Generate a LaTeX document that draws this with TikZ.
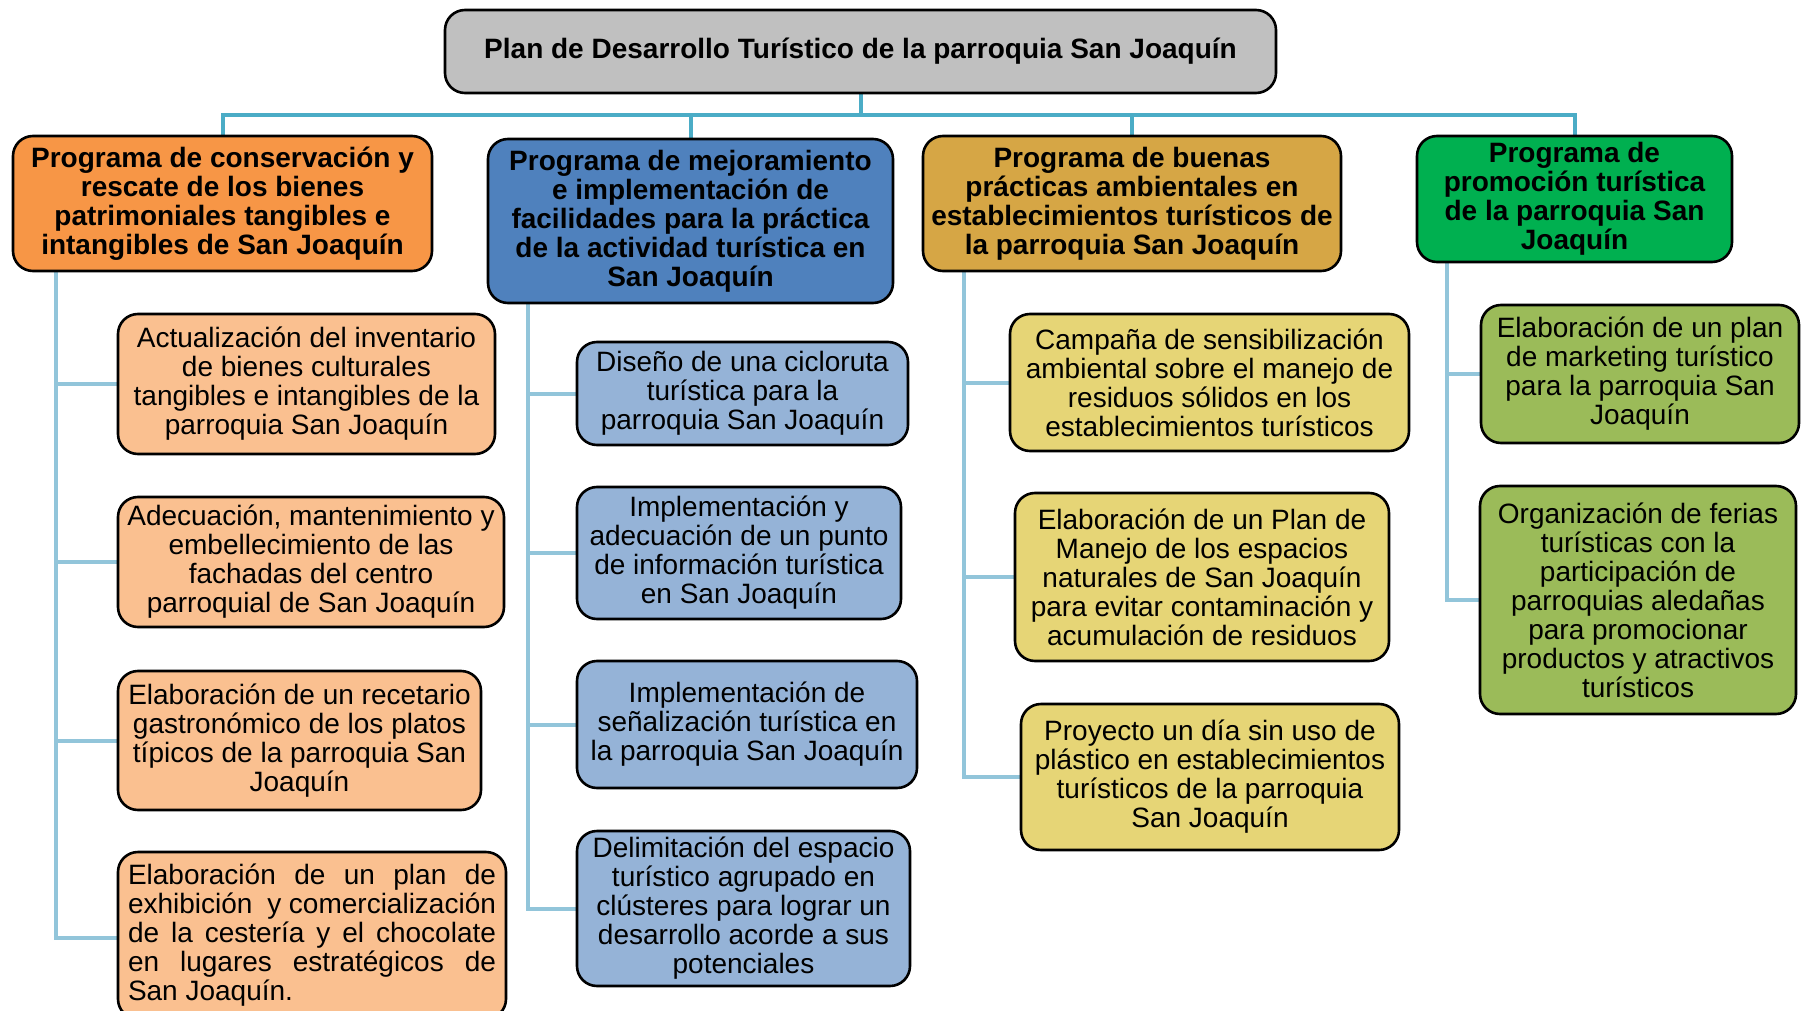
\documentclass[tikz,border=0pt]{standalone}
\usepackage{fontspec}
\setmainfont{Liberation Sans}
\usetikzlibrary{backgrounds}
\definecolor{titlegray}{HTML}{C0C0C0}
\definecolor{porange}{HTML}{F79646}
\definecolor{pblue}{HTML}{4F81BD}
\definecolor{pgold}{HTML}{D6A645}
\definecolor{pgreen}{HTML}{00B050}
\definecolor{corange}{HTML}{FAC090}
\definecolor{cblue}{HTML}{95B3D7}
\definecolor{cyellow}{HTML}{E6D576}
\definecolor{cgreen}{HTML}{9BBB59}
\definecolor{topblue}{HTML}{4BACC6}
\definecolor{subblue}{HTML}{92C5DA}
\tikzset{
  box/.style={draw=black, line width=2.6pt, rounded corners=20pt, align=center,
    inner sep=0pt, font=\fontsize{28}{29}\selectfont},
  progbox/.style={box, font=\fontsize{28}{29}\selectfont\bfseries},
  topline/.style={draw=topblue, line width=4pt},
  subline/.style={draw=subblue, line width=4pt},
}
\newcommand{\jline}[1]{\makebox[368pt][s]{#1}}
\begin{document}
\begin{tikzpicture}[x=1pt,y=-1pt]
\useasboundingbox (0,0) rectangle (1802,1011);

% title
\node[progbox, fill=titlegray, minimum width=831pt, minimum height=83pt] (title) at (860.5,51.5)
  {Plan de Desarrollo Turístico de la parroquia San Joaquín};

% programs
\node[progbox, fill=porange, minimum width=419pt, minimum height=135pt] (p1) at (222.5,203.5)
  {Programa de conservación y\\rescate de los bienes\\patrimoniales tangibles e\\intangibles de San Joaquín};
\node[progbox, fill=pblue, minimum width=405pt, minimum height=164pt] (p2) at (690.5,221)
  {Programa de mejoramiento\\e implementación de\\facilidades para la práctica\\de la actividad turística en\\San Joaquín};
\node[progbox, fill=pgold, minimum width=418pt, minimum height=135pt] (p3) at (1132,203.5)
  {Programa de buenas\\prácticas ambientales en\\establecimientos turísticos de\\la parroquia San Joaquín};
\node[progbox, fill=pgreen, minimum width=315pt, minimum height=126pt] (p4) at (1574.5,199)
  {Programa de\\promoción turística\\de la parroquia San\\Joaquín};

% children of p1
\node[box, fill=corange, minimum width=377pt, minimum height=140pt] (c1) at (306.5,384)
  {Actualización del inventario\\de bienes culturales\\tangibles e intangibles de la\\parroquia San Joaquín};
\node[box, fill=corange, minimum width=386pt, minimum height=130pt] (c2) at (311,562)
  {Adecuación, mantenimiento y\\embellecimiento de las\\fachadas del centro\\parroquial de San Joaquín};
\node[box, fill=corange, minimum width=363pt, minimum height=139pt] (c3) at (299.5,740.5)
  {Elaboración de un recetario\\gastronómico de los platos\\típicos de la parroquia San\\Joaquín};
\node[box, fill=corange, minimum width=388pt, minimum height=167pt, align=left] (c4) at (312,935.5)
  {\jline{Elaboración de un plan de}\\\jline{exhibición \ y comercialización}\\\jline{de la cestería y el chocolate}\\\jline{en lugares estratégicos de}\\San Joaquín.};

% children of p2
\node[box, fill=cblue, minimum width=331pt, minimum height=103pt] (d1) at (742.5,393.5)
  {Diseño de una cicloruta\\turística para la\\parroquia San Joaquín};
\node[box, fill=cblue, minimum width=324pt, minimum height=132pt] (d2) at (739,553)
  {Implementación y\\adecuación de un punto\\de información turística\\en San Joaquín};
\node[box, fill=cblue, minimum width=340pt, minimum height=127pt] (d3) at (747,724.5)
  {Implementación de\\señalización turística en\\la parroquia San Joaquín};
\node[box, fill=cblue, minimum width=333pt, minimum height=155pt] (d4) at (743.5,908.5)
  {Delimitación del espacio\\turístico agrupado en\\clústeres para lograr un\\desarrollo acorde a sus\\potenciales};

% children of p3
\node[box, fill=cyellow, minimum width=399pt, minimum height=137pt] (e1) at (1209.5,382.5)
  {Campaña de sensibilización\\ambiental sobre el manejo de\\residuos sólidos en los\\establecimientos turísticos};
\node[box, fill=cyellow, minimum width=374pt, minimum height=168pt] (e2) at (1202,577)
  {Elaboración de un Plan de\\Manejo de los espacios\\naturales de San Joaquín\\para evitar contaminación y\\acumulación de residuos};
\node[box, fill=cyellow, minimum width=378pt, minimum height=146pt] (e3) at (1210,777)
  {Proyecto un día sin uso de\\plástico en establecimientos\\turísticos de la parroquia\\San Joaquín};

% children of p4
\node[box, fill=cgreen, minimum width=318pt, minimum height=138pt] (f1) at (1640,374)
  {Elaboración de un plan\\de marketing turístico\\para la parroquia San\\Joaquín};
\node[box, fill=cgreen, minimum width=316pt, minimum height=228pt] (f2) at (1638,600)
  {Organización de ferias\\turísticas con la\\participación de\\parroquias aledañas\\para promocionar\\productos y atractivos\\turísticos};

% connectors
\coordinate (bus) at (0,115);
\coordinate (x1) at (56,0);
\coordinate (x2) at (528,0);
\coordinate (x3) at (964,0);
\coordinate (x4) at (1447,0);
\begin{scope}[on background layer]
  \draw[topline] (title.south) -- (title.south |- bus);
  \draw[topline] (p1.north) -- (p1.north |- bus) -- (p4.north |- bus) -- (p4.north);
  \draw[topline] (p2.north) -- (p2.north |- bus);
  \draw[topline] (p3.north) -- (p3.north |- bus);

  \draw[subline] (p1.south -| x1) |- (c1.west);
  \draw[subline] (p1.south -| x1) |- (c2.west);
  \draw[subline] (p1.south -| x1) |- (c3.west);
  \draw[subline] (p1.south -| x1) |- ([yshift=-2pt]c4.west);

  \draw[subline] (p2.south -| x2) |- (d1.west);
  \draw[subline] (p2.south -| x2) |- (d2.west);
  \draw[subline] (p2.south -| x2) |- (d3.west);
  \draw[subline] (p2.south -| x2) |- (d4.west);

  \draw[subline] (p3.south -| x3) |- (e1.west);
  \draw[subline] (p3.south -| x3) |- (e2.west);
  \draw[subline] (p3.south -| x3) |- (e3.west);

  \draw[subline] (p4.south -| x4) |- (f1.west);
  \draw[subline] (p4.south -| x4) |- (f2.west);
\end{scope}
\end{tikzpicture}
\end{document}
